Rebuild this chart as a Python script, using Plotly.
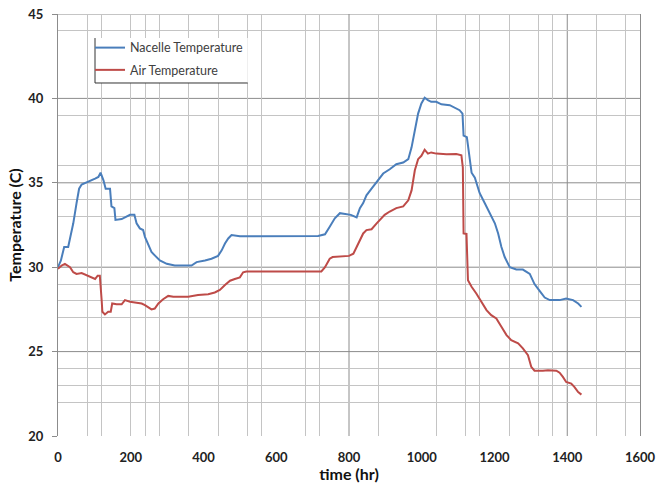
import plotly.graph_objects as go

# ---- data ----
nacelle_time = [0, 8, 17, 28, 33, 42, 51, 58, 65, 83, 102, 111, 117, 125, 131, 143, 147, 155, 158, 175,
                198, 210, 216, 225, 234, 239, 248, 257, 266, 280, 299, 321, 367, 381, 404, 422, 440, 450,
                459, 468, 477, 490, 500, 715, 734, 747, 761, 775, 793, 805, 821, 830, 839, 848, 862, 876,
                894, 912, 930, 949, 963, 972, 981, 990, 999, 1008, 1017, 1026, 1040, 1054, 1077, 1091,
                1104, 1112, 1115, 1124, 1132, 1137, 1146, 1159, 1173, 1187, 1201, 1210, 1219, 1228, 1242,
                1260, 1278, 1297, 1310, 1324, 1338, 1352, 1379, 1397, 1416, 1430, 1439]
nacelle_temp = [30.0, 30.4, 31.2, 31.2, 31.7, 32.6, 33.8, 34.65, 34.9, 35.05, 35.25, 35.35, 35.6, 35.15,
                34.65, 34.65, 33.6, 33.5, 32.8, 32.85, 33.1, 33.1, 32.6, 32.3, 32.2, 31.8, 31.3, 30.9,
                30.7, 30.4, 30.2, 30.1, 30.1, 30.3, 30.4, 30.5, 30.67, 31.0, 31.4, 31.7, 31.9, 31.85,
                31.83, 31.85, 31.95, 32.4, 32.9, 33.2, 33.15, 33.1, 32.95, 33.5, 33.8, 34.26, 34.65,
                35.05, 35.55, 35.8, 36.1, 36.2, 36.4, 37.1, 38.1, 39.1, 39.7, 40.04, 39.9, 39.8, 39.8,
                39.65, 39.6, 39.45, 39.3, 39.1, 37.8, 37.7, 36.5, 35.6, 35.3, 34.4, 33.8, 33.2, 32.6,
                32.0, 31.2, 30.6, 30.0, 29.86, 29.86, 29.6, 29.0, 28.6, 28.2, 28.05, 28.05, 28.15,
                28.05, 27.85, 27.65]

air_time = [0, 10, 19, 33, 42, 51, 65, 79, 93, 102, 109, 115, 120, 122, 129, 138, 145, 149, 161, 175,
            184, 198, 216, 230, 239, 248, 257, 266, 276, 289, 303, 317, 358, 385, 413, 431, 445, 459,
            473, 486, 500, 509, 518, 724, 734, 747, 755, 800, 812, 821, 830, 839, 848, 862, 876, 889,
            898, 912, 930, 949, 963, 972, 981, 990, 999, 1008, 1017, 1026, 1040, 1068, 1095, 1109,
            1113, 1115, 1123, 1127, 1137, 1150, 1164, 1178, 1191, 1205, 1219, 1233, 1246, 1265, 1278,
            1292, 1301, 1310, 1333, 1347, 1370, 1379, 1388, 1397, 1411, 1420, 1430, 1439]
air_temp = [29.9, 30.1, 30.2, 30.0, 29.7, 29.6, 29.65, 29.5, 29.4, 29.3, 29.5, 29.5, 28.05, 27.36, 27.2,
            27.36, 27.36, 27.85, 27.8, 27.8, 28.05, 27.95, 27.9, 27.85, 27.75, 27.65, 27.5, 27.55,
            27.85, 28.1, 28.3, 28.25, 28.25, 28.35, 28.4, 28.5, 28.65, 28.95, 29.2, 29.3, 29.4, 29.7,
            29.75, 29.75, 30.0, 30.5, 30.6, 30.67, 30.8, 31.2, 31.6, 32.0, 32.2, 32.25, 32.6, 32.9,
            33.1, 33.3, 33.5, 33.6, 33.96, 34.55, 35.74, 36.4, 36.6, 36.96, 36.73, 36.8, 36.73, 36.69,
            36.7, 36.63, 35.9, 32.0, 31.97, 29.23, 28.84, 28.44, 27.95, 27.46, 27.16, 26.96, 26.47,
            25.98, 25.68, 25.49, 25.19, 24.79, 24.1, 23.87, 23.87, 23.9, 23.87, 23.75, 23.5, 23.2,
            23.1, 22.9, 22.6, 22.45]

x_ticks = [0, 200, 400, 600, 800, 1000, 1200, 1400, 1600]
y_ticks = [20, 25, 30, 35, 40, 45]
x_grid_light = [80, 120, 200, 240, 280, 360, 440, 520, 560, 680, 720, 880, 1040, 1120, 1160, 1240,
                1320, 1360, 1480, 1560]
x_grid_dark = [800, 1400]
y_grid_light = [44, 39, 36, 34, 33, 29, 28, 27, 24, 23, 22]
y_grid_dark = [40, 35, 30, 25, 45]

# ---- style ----
BLUE = "#4a7ebb"
RED = "#be4b48"
LIGHT = "#c4c4c4"
DARK = "#8c8c8c"
FONT = "Lato"

fig = go.Figure()
fig.add_trace(go.Scatter(x=nacelle_time, y=nacelle_temp, mode="lines", name="Nacelle Temperature",
                         line=dict(color=BLUE, width=2), legendgroup="a"))
fig.add_trace(go.Scatter(x=air_time, y=air_temp, mode="lines", name="Air Temperature",
                         line=dict(color=RED, width=2), legendgroup="b"))

shapes = []
for v in x_grid_dark:
    shapes.append(dict(type="line", xref="x", yref="paper", x0=v, x1=v, y0=0, y1=1,
                       line=dict(color=DARK, width=1), layer="below"))
for v in y_grid_dark:
    shapes.append(dict(type="line", xref="paper", yref="y", x0=0, x1=1, y0=v, y1=v,
                       line=dict(color=DARK, width=1), layer="below"))

# legend frame: white panel with left and bottom edges only, as in the reference
lx0, lx1, ly0, ly1 = 0.0636, 0.326, 0.8365, 0.943
shapes.append(dict(type="rect", xref="paper", yref="paper", x0=lx0, x1=lx1, y0=ly0, y1=ly1,
                   fillcolor="white", line=dict(width=0), layer="above"))
shapes.append(dict(type="line", xref="paper", yref="paper", x0=lx0, x1=lx0, y0=ly0, y1=ly1,
                   line=dict(color="#333333", width=1), layer="above"))
shapes.append(dict(type="line", xref="paper", yref="paper", x0=lx0, x1=lx1, y0=ly0, y1=ly0,
                   line=dict(color="#333333", width=1), layer="above"))

fig.update_layout(
    width=656, height=483,
    margin=dict(l=58, r=16, t=14, b=47, autoexpand=False),
    paper_bgcolor="white", plot_bgcolor="white",
    font=dict(family=FONT, color="#222222"),
    showlegend=True,
    legend=dict(x=0.055, y=0.955, xanchor="left", yanchor="top", bgcolor="rgba(0,0,0,0)",
                borderwidth=0, font=dict(family=FONT, size=12.5, color="#404040"),
                tracegroupgap=3, itemwidth=30),
    shapes=shapes,
    xaxis=dict(range=[0, 1600], tickmode="array", tickvals=x_ticks, showgrid=False,
               automargin=False, ticklabeloverflow="allow",
               zeroline=False, showline=False, ticks="",
               tickfont=dict(family=FONT, size=13, color="#222222", weight="bold"),
               ticklabelstandoff=12,
               title=dict(text="time (hr)",
                          font=dict(family=FONT, size=16, color="#111111", weight="bold"),
                          standoff=0),
               minor=dict(tickmode="array", tickvals=x_grid_light, showgrid=True,
                          gridcolor=LIGHT, gridwidth=1, ticks="")),
    yaxis=dict(range=[20, 45], tickmode="array", tickvals=y_ticks, showgrid=False,
               automargin=False, ticklabeloverflow="allow",
               zeroline=False, showline=True, mirror=True, linecolor=DARK, linewidth=1,
               ticks="outside", ticklen=5, tickcolor=DARK,
               tickfont=dict(family=FONT, size=13, color="#222222", weight="bold"),
               ticklabelstandoff=6,
               title=dict(text="Temperature (C)",
                          font=dict(family=FONT, size=16, color="#111111", weight="bold"),
                          standoff=2),
               minor=dict(tickmode="array", tickvals=y_grid_light, showgrid=True,
                          gridcolor=LIGHT, gridwidth=1, ticks="")),
)

# remove the browser's default 8px page margin so the figure fills the window exactly
fig.write_html("out.html", config={"displayModeBar": False},
               post_script="document.body.style.margin='0';")
